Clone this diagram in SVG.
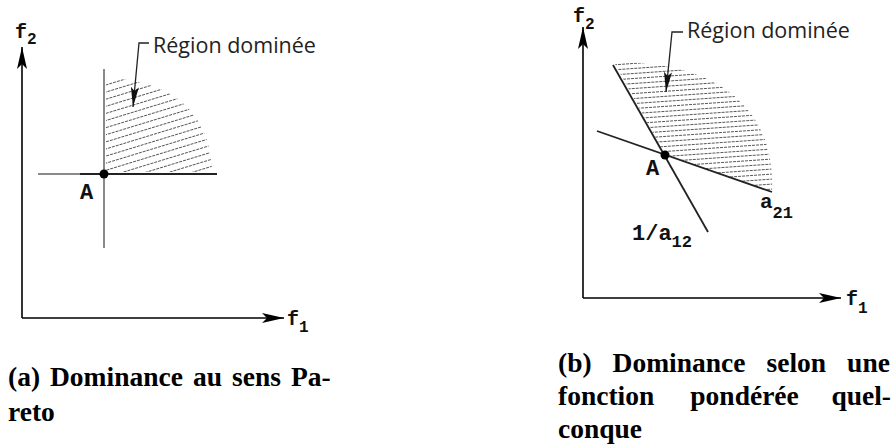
<svg xmlns="http://www.w3.org/2000/svg" width="896" height="447" viewBox="0 0 896 447">
<style>
.axis{stroke:#000;stroke-width:1.6;fill:none}
.ln{stroke:#222;stroke-width:1.8;fill:none}
.gl{stroke:#8a8a8a;stroke-width:2;fill:none}
.lead{stroke:#222;stroke-width:1.3;fill:none}
.lbl{font-family:"Liberation Mono","DejaVu Sans Mono",monospace;font-weight:bold;fill:#111}
.ann{font-family:"Open Sans","Noto Sans",sans-serif;font-size:21.5px;fill:#222}
.cap{font-family:"Liberation Serif","Times New Roman",serif;font-weight:bold;font-size:27.5px;fill:#000}
.hatch{stroke:#444;stroke-width:0.9;stroke-dasharray:3 1}
</style>
<defs>
<marker id="ax" markerUnits="userSpaceOnUse" viewBox="0 0 22 10" markerWidth="22" markerHeight="10" refX="22" refY="5" orient="auto">
<path d="M0,0 L22,5 L0,10 L5,5 Z" fill="#000"/>
</marker>
<marker id="ld" markerUnits="userSpaceOnUse" viewBox="0 0 20 8" markerWidth="20" markerHeight="8" refX="20" refY="4" orient="auto">
<path d="M0,0 L20,4 L0,8 L4,4 Z" fill="#111"/>
</marker>
<pattern id="hatchA" patternUnits="userSpaceOnUse" width="12" height="6.8" patternTransform="rotate(-17)">
<line x1="0" y1="3.4" x2="12" y2="3.4" class="hatch"/>
</pattern>
<pattern id="hatchB" patternUnits="userSpaceOnUse" width="12" height="5" patternTransform="rotate(-4)">
<line x1="0" y1="2.5" x2="12" y2="2.5" class="hatch"/>
</pattern>
</defs>

<g id="panel-a">
  <g id="region-a">
    <path d="M106,78 C170,80 210,110 212,172 L106,172 Z" fill="url(#hatchA)"/>
  </g>
  <g id="axes-a">
    <line class="axis" x1="22" y1="318" x2="22" y2="47" marker-end="url(#ax)"/>
    <line class="axis" x1="22" y1="318" x2="284" y2="318" marker-end="url(#ax)"/>
    <text class="lbl" x="15" y="38" font-size="20">f<tspan font-size="16" dy="6">2</tspan></text>
    <text class="lbl" x="287" y="325" font-size="20">f<tspan font-size="16" dy="7">1</tspan></text>
  </g>
  <g id="lines-a">
    <line class="gl" x1="104" y1="69" x2="104" y2="248"/>
    <line class="gl" x1="38" y1="174" x2="80" y2="174"/>
    <line class="ln" x1="80" y1="174" x2="217" y2="174"/>
  </g>
  <g id="point-a">
    <circle cx="104" cy="174" r="4.5" fill="#000"/>
    <text class="lbl" x="80" y="199" font-size="22">A</text>
  </g>
  <g id="annot-a">
    <path class="lead" d="M149,43 L139,43 L133,107" marker-end="url(#ld)"/>
    <text class="ann" x="153" y="53">Région dominée</text>
  </g>
</g>

<g id="panel-b">
  <g id="region-b">
    <path d="M615,64 L665,155 L772,192 C776,110 720,62 617,62 Z" fill="url(#hatchB)"/>
  </g>
  <g id="axes-b">
    <line class="axis" x1="583" y1="298" x2="583" y2="27" marker-end="url(#ax)"/>
    <line class="axis" x1="583" y1="298" x2="841" y2="298" marker-end="url(#ax)"/>
    <text class="lbl" x="573" y="22" font-size="20">f<tspan font-size="16" dy="7">2</tspan></text>
    <text class="lbl" x="846" y="305" font-size="20">f<tspan font-size="16" dy="8">1</tspan></text>
  </g>
  <g id="lines-b">
    <line class="ln" x1="613" y1="65" x2="708" y2="232"/>
    <line class="ln" x1="597" y1="131" x2="772" y2="192"/>
    <text class="lbl" x="760" y="208" font-size="21">a<tspan font-size="17" dy="10">21</tspan></text>
    <text class="lbl" x="632" y="240" font-size="22">1/a<tspan font-size="17" dy="7">12</tspan></text>
  </g>
  <g id="point-b">
    <circle cx="665" cy="155" r="4.5" fill="#000"/>
    <text class="lbl" x="646" y="175" font-size="22">A</text>
  </g>
  <g id="annot-b">
    <path class="lead" d="M683,32 L672,32 L666,92" marker-end="url(#ld)"/>
    <text class="ann" x="687" y="38">Région dominée</text>
  </g>
</g>

<g id="captions">
  <text class="cap" y="386"><tspan x="8">(a)</tspan><tspan x="50">Dominance</tspan><tspan x="193">au</tspan><tspan x="232">sens</tspan><tspan x="291">Pa-</tspan></text>
  <text class="cap" x="8" y="421">reto</text>
  <text class="cap" y="372"><tspan x="558">(b)</tspan><tspan x="612.6">Dominance</tspan><tspan x="766.5">selon</tspan><tspan x="847.1">une</tspan></text>
  <text class="cap" y="405"><tspan x="558">fonction</tspan><tspan x="690.3">pondérée</tspan><tspan x="831.4">quel-</tspan></text>
  <text class="cap" x="558" y="438">conque</text>
</g>
</svg>
